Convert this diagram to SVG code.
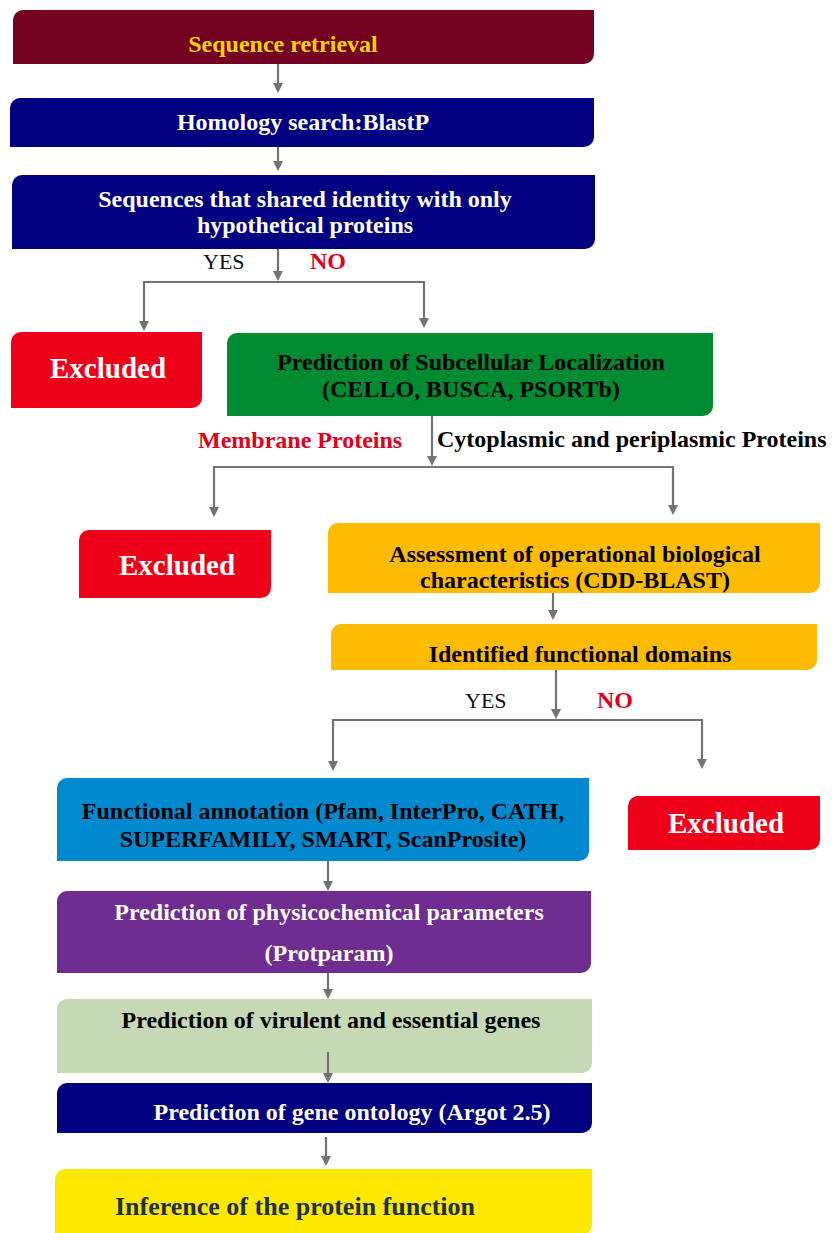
<svg xmlns="http://www.w3.org/2000/svg" width="835" height="1233" viewBox="0 0 835 1233">
<style>
  text { font-family: "Liberation Serif", "Times New Roman", serif; font-weight: bold; font-size: 24px; }
  .c { text-anchor: middle; }
  .w { fill: #ffffff; }
  .k { fill: #000000; }
  .r { fill: #e0001b; }
  .ex { font-size: 29px; fill: #ffffff; text-anchor: middle; }
  .yes { font-weight: normal; font-size: 22px; fill: #111111; }
  .conn line { stroke: #737373; stroke-width: 2.2; fill: none; }
  .conn line.arr { marker-end: url(#ah); }
</style>
<defs>
  <marker id="ah" viewBox="0 0 10 10" refX="2" refY="5" markerWidth="10" markerHeight="10" markerUnits="userSpaceOnUse" orient="auto">
    <path d="M0,0 L10,5 L0,10 Z" fill="#737373"/>
  </marker>
</defs>
<rect width="835" height="1233" fill="#ffffff"/>

<g id="n-retrieval">
  <path d="M23,10 H594 V54 A10,10 0 0 1 584,64 H13 V20 A10,10 0 0 1 23,10 Z" fill="#740022"/>
  <text x="283" y="52" class="c" fill="#f7d400">Sequence retrieval</text>
</g>
<g id="n-homology">
  <path d="M20,98 H594 V137 A10,10 0 0 1 584,147 H10 V108 A10,10 0 0 1 20,98 Z" fill="#000080"/>
  <text x="303" y="130" class="c w">Homology search:BlastP</text>
</g>
<g id="n-hypothetical">
  <path d="M22,175 H595 V239 A10,10 0 0 1 585,249 H12 V185 A10,10 0 0 1 22,175 Z" fill="#000080"/>
  <text x="305" y="207" class="c w">Sequences that shared identity with only</text>
  <text x="305" y="233" class="c w">hypothetical proteins</text>
</g>
<g id="n-excluded1">
  <path d="M21,332 H202 V398 A10,10 0 0 1 192,408 H11 V342 A10,10 0 0 1 21,332 Z" fill="#ee0019"/>
  <text x="108" y="378" class="ex">Excluded</text>
</g>
<g id="n-localization">
  <path d="M237,333 H713 V406 A10,10 0 0 1 703,416 H227 V343 A10,10 0 0 1 237,333 Z" fill="#008a32"/>
  <text x="471" y="370" class="c k">Prediction of Subcellular Localization</text>
  <text x="471" y="397" class="c k">(CELLO, BUSCA, PSORTb)</text>
</g>
<g id="n-excluded2">
  <path d="M89,530 H271 V588 A10,10 0 0 1 261,598 H79 V540 A10,10 0 0 1 89,530 Z" fill="#ee0019"/>
  <text x="177" y="575" class="ex">Excluded</text>
</g>
<g id="n-assessment">
  <path d="M338,523 H820 V583 A10,10 0 0 1 810,593 H328 V533 A10,10 0 0 1 338,523 Z" fill="#ffbb00"/>
  <text x="575" y="562" class="c k">Assessment of operational biological</text>
  <text x="575" y="588" class="c k">characteristics (CDD-BLAST)</text>
</g>
<g id="n-domains">
  <path d="M341,624 H817 V660 A10,10 0 0 1 807,670 H331 V634 A10,10 0 0 1 341,624 Z" fill="#ffbb00"/>
  <text x="580" y="662" class="c k">Identified functional domains</text>
</g>
<g id="n-annotation">
  <path d="M67,778 H589 V851 A10,10 0 0 1 579,861 H57 V788 A10,10 0 0 1 67,778 Z" fill="#0089cf"/>
  <text x="323" y="819" class="c k">Functional annotation (Pfam, InterPro, CATH,</text>
  <text x="323" y="847" class="c k">SUPERFAMILY, SMART, ScanProsite)</text>
</g>
<g id="n-excluded3">
  <path d="M638,796 H820 V840 A10,10 0 0 1 810,850 H628 V806 A10,10 0 0 1 638,796 Z" fill="#ee0019"/>
  <text x="726" y="833" class="ex">Excluded</text>
</g>
<g id="n-physicochemical">
  <path d="M67,891 H591 V963 A10,10 0 0 1 581,973 H57 V901 A10,10 0 0 1 67,891 Z" fill="#6f2c91"/>
  <text x="329" y="920" class="c w">Prediction of physicochemical parameters</text>
  <text x="329" y="961" class="c w">(Protparam)</text>
</g>
<g id="n-virulent">
  <path d="M67,999 H592 V1063 A10,10 0 0 1 582,1073 H57 V1009 A10,10 0 0 1 67,999 Z" fill="#c5dab4"/>
  <text x="331" y="1028" class="c k">Prediction of virulent and essential genes</text>
</g>
<g id="n-ontology">
  <path d="M67,1083 H592 V1123 A10,10 0 0 1 582,1133 H57 V1093 A10,10 0 0 1 67,1083 Z" fill="#000080"/>
  <text x="352" y="1120" class="c w">Prediction of gene ontology (Argot 2.5)</text>
</g>
<g id="n-inference">
  <path d="M65,1169 H592 V1225 A10,10 0 0 1 582,1235 H55 V1179 A10,10 0 0 1 65,1169 Z" fill="#ffe800"/>
  <text x="295" y="1215" class="c" fill="#1e3246" style="font-size:26px">Inference of the protein function</text>
</g>

<g id="labels">
  <text x="203" y="269" class="yes">YES</text>
  <text x="310" y="269" class="r">NO</text>
  <text x="198" y="448" class="r">Membrane Proteins</text>
  <text x="437" y="447" class="k">Cytoplasmic and periplasmic Proteins</text>
  <text x="465" y="708" class="yes">YES</text>
  <text x="597" y="708" class="r">NO</text>
</g>

<g id="connectors" class="conn">
  <line class="arr" x1="278" y1="64" x2="278" y2="85"/>
  <line class="arr" x1="278" y1="147" x2="278" y2="163"/>
  <line class="arr" x1="278" y1="249" x2="278" y2="273"/>
  <line x1="143" y1="282" x2="425" y2="282"/>
  <line class="arr" x1="144" y1="281" x2="144" y2="323"/>
  <line class="arr" x1="424" y1="281" x2="424" y2="320"/>
  <line class="arr" x1="432" y1="416" x2="432" y2="458"/>
  <line x1="213" y1="467" x2="674" y2="467"/>
  <line class="arr" x1="214" y1="466" x2="214" y2="509"/>
  <line class="arr" x1="673" y1="466" x2="673" y2="507"/>
  <line class="arr" x1="553" y1="593" x2="553" y2="612"/>
  <line class="arr" x1="556" y1="670" x2="556" y2="711"/>
  <line x1="332" y1="720" x2="703" y2="720"/>
  <line class="arr" x1="333" y1="719" x2="333" y2="763"/>
  <line class="arr" x1="702" y1="719" x2="702" y2="761"/>
  <line class="arr" x1="328" y1="861" x2="328" y2="883"/>
  <line class="arr" x1="328" y1="973" x2="328" y2="991"/>
  <line class="arr" x1="328" y1="1052" x2="328" y2="1075"/>
  <line class="arr" x1="326" y1="1137" x2="326" y2="1158"/>
</g>
</svg>
